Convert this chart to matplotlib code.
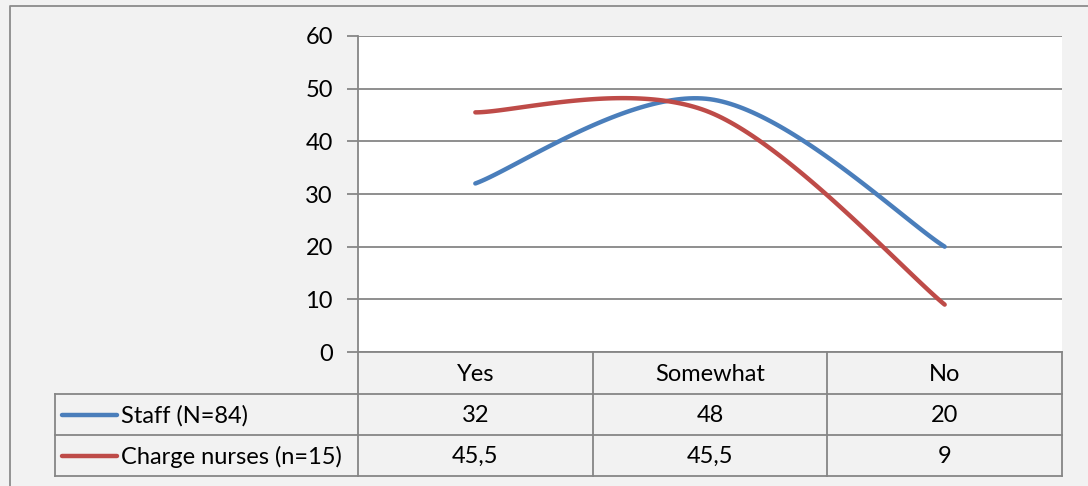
import numpy as np
import matplotlib.pyplot as plt
from matplotlib.lines import Line2D

plt.rcParams['font.family'] = ['Lato', 'DejaVu Sans']

categories = ['Yes', 'Somewhat', 'No']
staff = [32, 48, 20]
charge = [45.5, 45.5, 9]
series_names = ['Staff (N=84)', 'Charge nurses (n=15)']
cell_text = [['32', '48', '20'], ['45,5', '45,5', '9']]
colors = ['#4a7ebb', '#be4b48']


def smooth(y, n=60):
    """Bezier smoothing through the points (same style as spreadsheet smoothed lines)."""
    x = np.arange(len(y), dtype=float)
    pts = np.column_stack([x, np.asarray(y, dtype=float)])
    ext = np.vstack([pts[0], pts, pts[-1]])
    xs, ys = [], []
    t = np.linspace(0, 1, n)[:, None]
    for i in range(len(pts) - 1):
        p0, p3 = pts[i], pts[i + 1]
        p1 = p0 + (ext[i + 2] - ext[i]) / 6
        p2 = p3 - (ext[i + 3] - ext[i + 1]) / 6
        b = ((1 - t) ** 3) * p0 + 3 * ((1 - t) ** 2) * t * p1 + 3 * (1 - t) * t ** 2 * p2 + t ** 3 * p3
        xs.append(b[:, 0])
        ys.append(b[:, 1])
    return np.concatenate(xs), np.concatenate(ys)


W, H = 1088, 486
FS = 17
fig = plt.figure(figsize=(W / 100, H / 100), dpi=100, facecolor='#f2f2f2')

# plot area in pixel terms
L, R, T, B = 358, 1062, 36, 352
ax = fig.add_axes([L / W, 1 - B / H, (R - L) / W, (B - T) / H])
ax.set_facecolor('white')
for sname, vals, c in zip(series_names, [staff, charge], colors):
    sx, sy = smooth(vals)
    ax.plot(sx, sy, color=c, lw=3.2, solid_capstyle='round', zorder=3)

ax.set_xlim(-0.5, len(categories) - 0.5)
ax.set_ylim(0, 60)
ax.set_yticks(range(0, 61, 10))
ax.yaxis.grid(True, color='#868686', lw=1.3)
ax.set_xticks([])
for s in ['top', 'right', 'bottom']:
    ax.spines[s].set_visible(False)
ax.spines['left'].set_color('#868686')
ax.spines['left'].set_linewidth(1.3)
ax.tick_params(axis='y', length=8, width=1.3, color='#868686', labelsize=FS, pad=10)

# data table below the plot
ov = fig.add_axes([0, 0, 1, 1], facecolor='none')
ov.set_xlim(0, W)
ov.set_ylim(H, 0)
ov.axis('off')
gc = '#868686'
col_edges = [L + (R - L) * k / 3 for k in range(4)]
rows = [352, 394, 435, 476]
tab_left = 55
# horizontal rules
ov.add_line(Line2D([L, R], [rows[0]] * 2, color=gc, lw=1.3))
for yv in rows[1:]:
    ov.add_line(Line2D([tab_left, R], [yv] * 2, color=gc, lw=1.3))
# vertical rules
for xv in col_edges:
    ov.add_line(Line2D([xv, xv], [rows[0], rows[-1]], color=gc, lw=1.3))
ov.add_line(Line2D([tab_left, tab_left], [rows[1], rows[-1]], color=gc, lw=1.3))

centers = [(col_edges[k] + col_edges[k + 1]) / 2 for k in range(3)]
for cx, cat in zip(centers, categories):
    ov.text(cx, (rows[0] + rows[1]) / 2 + 1, cat, ha='center', va='center', fontsize=FS)
for r in range(2):
    ymid = (rows[r + 1] + rows[r + 2]) / 2 + 1
    ov.add_line(Line2D([62, 117], [ymid - 1, ymid - 1], color=colors[r], lw=3.2,
                       solid_capstyle='round'))
    ov.text(121, ymid, series_names[r], ha='left', va='center', fontsize=FS)
    for cx, txt in zip(centers, cell_text[r]):
        ov.text(cx, ymid, txt, ha='center', va='center', fontsize=FS)

# outer chart border
ov.add_line(Line2D([10, 10, W + 5], [H + 5, 6, 6], color='#8c8c8c', lw=1.3))

fig.savefig('out.png', dpi=100, facecolor=fig.get_facecolor())
